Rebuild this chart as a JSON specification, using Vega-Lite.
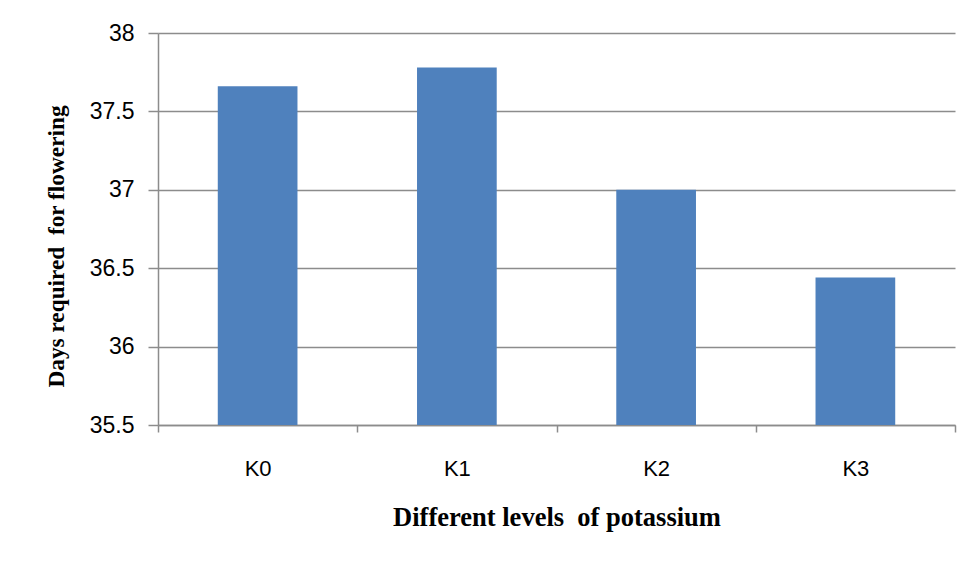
{
  "$schema": "https://vega.github.io/schema/vega-lite/v6.json",
  "width": 797,
  "height": 392,
  "autosize": "none",
  "padding": {"left": 158, "top": 33, "right": 19, "bottom": 137},
  "background": "white",
  "config": {"view": {"stroke": null}},
  "data": {
    "values": [
      {"level": "K0", "days": 37.66},
      {"level": "K1", "days": 37.78},
      {"level": "K2", "days": 37.0},
      {"level": "K3", "days": 36.44}
    ]
  },
  "mark": {"type": "bar", "color": "#4F81BD", "width": {"band": 0.4}, "clip": true},
  "encoding": {
    "x": {
      "field": "level",
      "type": "nominal",
      "scale": {"paddingInner": 0, "paddingOuter": 0},
      "axis": {
        "title": "Different levels\u00a0 of potassium",
        "titleFont": "Liberation Serif",
        "titleFontWeight": "bold",
        "titleFontSize": 26.5,
        "titleColor": "black",
        "titleY": 100,
        "titleBaseline": "alphabetic",
        "labelAngle": 0,
        "labelFont": "Liberation Sans",
        "labelFontSize": 22,
        "labelColor": "black",
        "labelPadding": 26,
        "tickBand": "extent",
        "tickSize": 7,
        "tickColor": "#8c8c8c",
        "tickWidth": 1.5,
        "domainColor": "#8c8c8c",
        "domainWidth": 1.5
      }
    },
    "y": {
      "field": "days",
      "type": "quantitative",
      "scale": {"domain": [35.5, 38], "zero": false, "nice": false},
      "axis": {
        "values": [35.5, 36, 36.5, 37, 37.5, 38],
        "format": "~g",
        "title": "Days required\u00a0 for flowering",
        "titleFont": "Liberation Serif",
        "titleFontWeight": "bold",
        "titleFontSize": 23.3,
        "titleColor": "black",
        "titleX": -95,
        "titleY": 213,
        "titleBaseline": "alphabetic",
        "labelFont": "Liberation Sans",
        "labelFontSize": 23,
        "labelColor": "black",
        "labelPadding": 14,
        "tickSize": 10,
        "tickColor": "#8c8c8c",
        "tickWidth": 1.5,
        "domainColor": "#8c8c8c",
        "domainWidth": 1.5,
        "grid": true,
        "gridColor": "#8c8c8c",
        "gridWidth": 1.5
      }
    }
  }
}
